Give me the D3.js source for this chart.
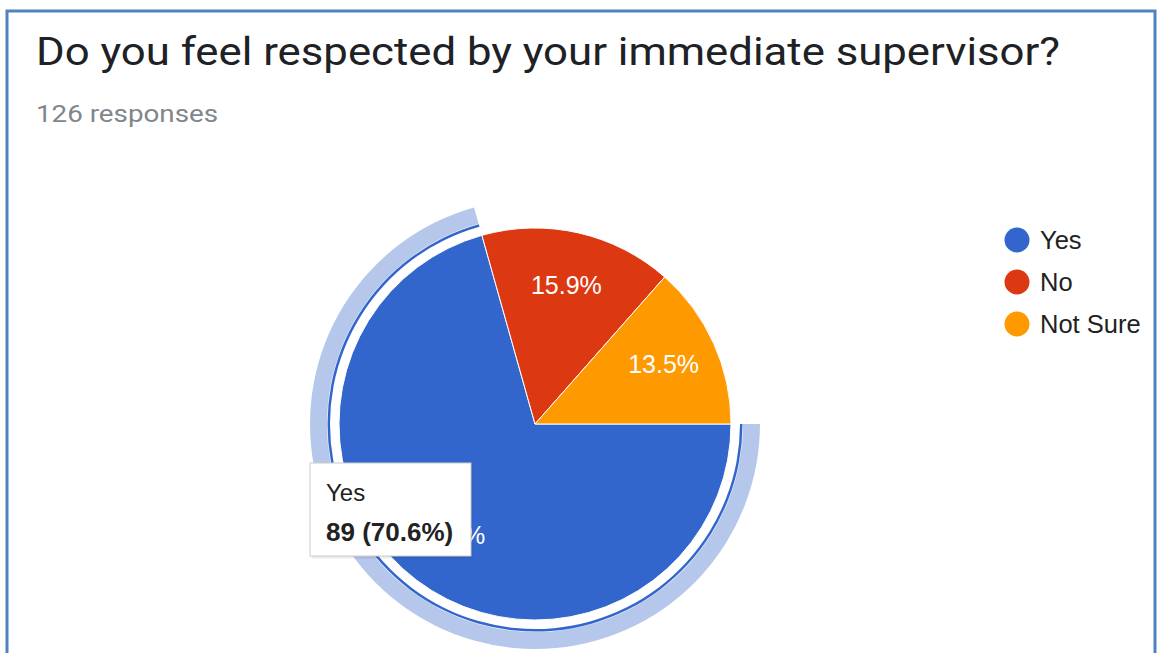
<!DOCTYPE html>
<html>
<head>
<meta charset="utf-8">
<script src="https://cdn.jsdelivr.net/npm/d3@7"></script>
<style>
  html, body { margin: 0; padding: 0; background: #ffffff; }
  svg { display: block; }
</style>
</head>
<body>
<svg id="chart" width="1159" height="653"></svg>
<script>
// Survey answers
const categories = ["Yes", "No", "Not Sure"];
const counts = [89, 20, 17];
const sliceColors = ["#3366cc", "#dc3912", "#ff9900"];
const titleText = "Do you feel respected by your immediate supervisor?";
const selectedIndex = 0;

const svg = d3.select("#chart");
const W = 1159, H = 653;
const total = d3.sum(counts);
const fmtPct = v => (v * 100).toFixed(1) + "%";

// card frame (open at the bottom edge of the view)
svg.append("path")
  .attr("d", `M7,${H + 10} L7,11 L1155,11 L1155,${H + 10}`)
  .attr("fill", "none")
  .attr("stroke", "#5082c0")
  .attr("stroke-width", 3);

// header (wide-set heading face)
svg.append("text")
  .attr("x", 36).attr("y", 65)
  .attr("font-family", "Roboto, sans-serif")
  .attr("font-size", 38.5)
  .attr("fill", "#202124")
  .attr("textLength", 1024)
  .attr("lengthAdjust", "spacingAndGlyphs")
  .text(titleText);

svg.append("text")
  .attr("x", 36).attr("y", 122)
  .attr("font-family", "Roboto, sans-serif")
  .attr("font-size", 24)
  .attr("fill", "#80868b")
  .attr("textLength", 182)
  .attr("lengthAdjust", "spacingAndGlyphs")
  .text(`${total} responses`);

// pie
const cx = 535, cy = 424, R = 196;
const data = categories.map((c, i) => ({ name: c, value: counts[i], color: sliceColors[i] }));

const pie = d3.pie()
  .value(d => d.value)
  .sort(null)
  .startAngle(Math.PI / 2)
  .endAngle(Math.PI / 2 + 2 * Math.PI);
const arcs = pie(data);

const g = svg.append("g").attr("transform", `translate(${cx},${cy})`);
const arc = d3.arc().innerRadius(0).outerRadius(R);

// selection rings around the highlighted slice
const sel = arcs[selectedIndex];
g.append("path")
  .attr("d", d3.arc().innerRadius(R + 12).outerRadius(R + 29)(sel))
  .attr("fill", "#b5c7eb");
g.append("path")
  .attr("d", d3.arc().innerRadius(R + 9).outerRadius(R + 11.5)(sel))
  .attr("fill", "#3366cc");

g.selectAll("path.slice")
  .data(arcs)
  .join("path")
  .attr("class", "slice")
  .attr("d", arc)
  .attr("fill", d => d.data.color)
  .attr("stroke", "#ffffff")
  .attr("stroke-width", 1);

// percentage labels inside slices
const labelArc = d3.arc().innerRadius(R * 0.72).outerRadius(R * 0.72);
g.selectAll("text.pct")
  .data(arcs)
  .join("text")
  .attr("class", "pct")
  .attr("transform", d => `translate(${labelArc.centroid(d)})`)
  .attr("text-anchor", "middle")
  .attr("dy", "0.3em")
  .attr("font-family", "Arial, 'Liberation Sans', sans-serif")
  .attr("font-size", 25)
  .attr("fill", "#ffffff")
  .text(d => fmtPct(d.data.value / total));

// legend
const legend = svg.append("g").attr("transform", "translate(1017,240)");
const rows = legend.selectAll("g")
  .data(data)
  .join("g")
  .attr("transform", (d, i) => `translate(0,${i * 42})`);
rows.append("circle")
  .attr("r", 12.5)
  .attr("fill", d => d.color);
rows.append("text")
  .attr("x", 23)
  .attr("y", 9)
  .attr("font-family", "Arial, 'Liberation Sans', sans-serif")
  .attr("font-size", 25.5)
  .attr("fill", "#222222")
  .text(d => d.name);

// tooltip for the selected slice
const tip = svg.append("g").attr("transform", "translate(310,463)");
tip.append("rect")
  .attr("x", 1.5).attr("y", 1.5)
  .attr("width", 161).attr("height", 94)
  .attr("fill", "#000000").attr("opacity", 0.08);
tip.append("rect")
  .attr("width", 161).attr("height", 93)
  .attr("fill", "#ffffff")
  .attr("stroke", "#cccccc")
  .attr("stroke-width", 1);
tip.append("text")
  .attr("x", 16).attr("y", 38)
  .attr("font-family", "Arial, 'Liberation Sans', sans-serif")
  .attr("font-size", 24)
  .attr("fill", "#222222")
  .text(data[selectedIndex].name);
tip.append("text")
  .attr("x", 16).attr("y", 78)
  .attr("font-family", "Arial, 'Liberation Sans', sans-serif")
  .attr("font-size", 26)
  .attr("font-weight", "bold")
  .attr("fill", "#222222")
  .text(`${data[selectedIndex].value} (${fmtPct(data[selectedIndex].value / total)})`);
</script>
</body>
</html>
